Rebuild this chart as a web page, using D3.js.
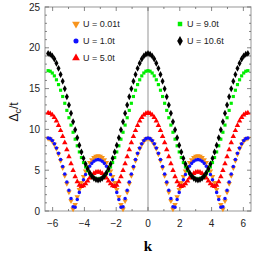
<!DOCTYPE html>
<html><head><meta charset="utf-8">
<script src="https://cdn.jsdelivr.net/npm/d3@7"></script>
<style>body{margin:0;background:#fff}</style>
</head><body><script>
const width = 256, height = 256;

// k runs from -2pi to 2pi in steps of pi/24 (97 points)
const kCount = 97;
const xTicks = [-6, -4, -2, 0, 2, 4, 6];
const yTicks = [0, 5, 10, 15, 20, 25];

const uLabels = ["U = 0.01t", "U = 1.0t", "U = 5.0t", "U = 9.0t", "U = 10.6t"];

const gapU001 = [8.9, 8.82, 8.58, 8.18, 7.64, 6.97, 6.18, 5.3, 4.35, 3.35, 2.31, 1.26, 0.23, 0.78, 1.74, 2.64, 3.48, 4.22, 4.88, 5.45, 5.92, 6.28, 6.54, 6.7, 6.75,
  6.7, 6.54, 6.28, 5.92, 5.45, 4.88, 4.22, 3.48, 2.64, 1.74, 0.78, 0.23, 1.26, 2.31, 3.35, 4.35, 5.3, 6.18, 6.97, 7.64, 8.18, 8.58, 8.82, 8.9,
  8.82, 8.58, 8.18, 7.64, 6.97, 6.18, 5.3, 4.35, 3.35, 2.31, 1.26, 0.23, 0.78, 1.74, 2.64, 3.48, 4.22, 4.88, 5.45, 5.92, 6.28, 6.54, 6.7, 6.75,
  6.7, 6.54, 6.28, 5.92, 5.45, 4.88, 4.22, 3.48, 2.64, 1.74, 0.78, 0.23, 1.26, 2.31, 3.35, 4.35, 5.3, 6.18, 6.97, 7.64, 8.18, 8.58, 8.82, 8.9];

const gapU1 = [8.95, 8.87, 8.64, 8.25, 7.73, 7.08, 6.32, 5.46, 4.54, 3.56, 2.55, 1.53, 0.53, 0.46, 1.4, 2.28, 3.09, 3.82, 4.47, 5.02, 5.48, 5.84, 6.09, 6.25, 6.3,
  6.25, 6.09, 5.84, 5.48, 5.02, 4.47, 3.82, 3.09, 2.28, 1.4, 0.46, 0.53, 1.53, 2.55, 3.56, 4.54, 5.46, 6.32, 7.08, 7.73, 8.25, 8.64, 8.87, 8.95,
  8.87, 8.64, 8.25, 7.73, 7.08, 6.32, 5.46, 4.54, 3.56, 2.55, 1.53, 0.53, 0.46, 1.4, 2.28, 3.09, 3.82, 4.47, 5.02, 5.48, 5.84, 6.09, 6.25, 6.3,
  6.25, 6.09, 5.84, 5.48, 5.02, 4.47, 3.82, 3.09, 2.28, 1.4, 0.46, 0.53, 1.53, 2.55, 3.56, 4.54, 5.46, 6.32, 7.08, 7.73, 8.25, 8.64, 8.87, 8.95];

const gapU5 = [12.03, 11.97, 11.78, 11.46, 11.03, 10.5, 9.86, 9.14, 8.36, 7.52, 6.66, 5.79, 4.96, 4.2, 3.58, 3.16, 3.0, 3.09, 3.35, 3.7, 4.05, 4.36, 4.6, 4.75, 4.8,
  4.75, 4.6, 4.36, 4.05, 3.7, 3.35, 3.09, 3.0, 3.16, 3.58, 4.2, 4.96, 5.79, 6.66, 7.52, 8.36, 9.14, 9.86, 10.5, 11.03, 11.46, 11.78, 11.97, 12.03,
  11.97, 11.78, 11.46, 11.03, 10.5, 9.86, 9.14, 8.36, 7.52, 6.66, 5.79, 4.96, 4.2, 3.58, 3.16, 3.0, 3.09, 3.35, 3.7, 4.05, 4.36, 4.6, 4.75, 4.8,
  4.75, 4.6, 4.36, 4.05, 3.7, 3.35, 3.09, 3.0, 3.16, 3.58, 4.2, 4.96, 5.79, 6.66, 7.52, 8.36, 9.14, 9.86, 10.5, 11.03, 11.46, 11.78, 11.97, 12.03];

const gapU9 = [17.2, 17.13, 16.91, 16.56, 16.08, 15.49, 14.8, 14.03, 13.2, 12.33, 11.43, 10.53, 9.65, 8.8, 7.99, 7.24, 6.55, 5.94, 5.4, 4.94, 4.57, 4.27, 4.07, 3.94, 3.9,
  3.94, 4.07, 4.27, 4.57, 4.94, 5.4, 5.94, 6.55, 7.24, 7.99, 8.8, 9.65, 10.53, 11.43, 12.33, 13.2, 14.03, 14.8, 15.49, 16.08, 16.56, 16.91, 17.13, 17.2,
  17.13, 16.91, 16.56, 16.08, 15.49, 14.8, 14.03, 13.2, 12.33, 11.43, 10.53, 9.65, 8.8, 7.99, 7.24, 6.55, 5.94, 5.4, 4.94, 4.57, 4.27, 4.07, 3.94, 3.9,
  3.94, 4.07, 4.27, 4.57, 4.94, 5.4, 5.94, 6.55, 7.24, 7.99, 8.8, 9.65, 10.53, 11.43, 12.33, 13.2, 14.03, 14.8, 15.49, 16.08, 16.56, 16.91, 17.13, 17.2];

const gapU106 = [19.3, 19.22, 19.0, 18.62, 18.11, 17.48, 16.73, 15.89, 14.98, 14.0, 13.0, 11.97, 10.95, 9.95, 8.98, 8.07, 7.23, 6.45, 5.77, 5.18, 4.69, 4.3, 4.02, 3.86, 3.8,
  3.86, 4.02, 4.3, 4.69, 5.18, 5.77, 6.45, 7.23, 8.07, 8.98, 9.95, 10.95, 11.97, 13.0, 14.0, 14.98, 15.89, 16.73, 17.48, 18.11, 18.62, 19.0, 19.22, 19.3,
  19.22, 19.0, 18.62, 18.11, 17.48, 16.73, 15.89, 14.98, 14.0, 13.0, 11.97, 10.95, 9.95, 8.98, 8.07, 7.23, 6.45, 5.77, 5.18, 4.69, 4.3, 4.02, 3.86, 3.8,
  3.86, 4.02, 4.3, 4.69, 5.18, 5.77, 6.45, 7.23, 8.07, 8.98, 9.95, 10.95, 11.97, 13.0, 14.0, 14.98, 15.89, 16.73, 17.48, 18.11, 18.62, 19.0, 19.22, 19.3];

const kValues = d3.range(kCount).map(i => -2 * Math.PI + i * Math.PI / 24);

const series = [
  {label: uLabels[0], values: gapU001, color: "#f7941d", shape: d3.symbolTriangle, size: 13, rot: 180},
  {label: uLabels[1], values: gapU1, color: "#1010ff", shape: d3.symbolCircle, size: 10, rot: 0},
  {label: uLabels[2], values: gapU5, color: "#ff0000", shape: d3.symbolTriangle, size: 13, rot: 0},
  {label: uLabels[3], values: gapU9, color: "#00ee00", shape: d3.symbolSquare, size: 10, rot: 0},
  {label: uLabels[4], values: gapU106, color: "#000000", shape: d3.symbolDiamond, size: 14, rot: 0}
];

const plotLeft = 45, plotRight = 251, plotTop = 7, plotBottom = 211;

const x = d3.scaleLinear().domain([-6.48, 6.48]).range([plotLeft, plotRight]);
const y = d3.scaleLinear().domain([0, 25]).range([plotBottom, plotTop]);

const svg = d3.select('body')
  .append('svg')
  .attr('width', width)
  .attr('height', height)
  .style('font-family', 'Liberation Sans, Arial, sans-serif');

// frame
svg.append('rect')
  .attr('x', plotLeft)
  .attr('y', plotTop)
  .attr('width', plotRight - plotLeft)
  .attr('height', plotBottom - plotTop)
  .attr('fill', 'none')
  .attr('stroke', '#a8a8a8')
  .attr('stroke-width', 1.2);

// k = 0 line
svg.append('line')
  .attr('x1', x(0)).attr('x2', x(0))
  .attr('y1', plotBottom).attr('y2', plotTop)
  .attr('stroke', '#b8b8b8')
  .attr('stroke-width', 1.5);

// ticks (inward, on all sides)
const tickColor = '#555';
const xMinor = d3.range(-6, 7, 1);
const yMinor = d3.range(0, 26, 1);
const tg = svg.append('g').attr('stroke', tickColor).attr('stroke-width', 0.7);
xMinor.forEach(v => {
  const len = xTicks.includes(v) ? 4 : 2;
  tg.append('line').attr('x1', x(v)).attr('x2', x(v)).attr('y1', plotBottom).attr('y2', plotBottom - len);
  tg.append('line').attr('x1', x(v)).attr('x2', x(v)).attr('y1', plotTop).attr('y2', plotTop + len);
});
yMinor.forEach(v => {
  const len = yTicks.includes(v) ? 4 : 2;
  tg.append('line').attr('x1', plotLeft).attr('x2', plotLeft + len).attr('y1', y(v)).attr('y2', y(v));
  tg.append('line').attr('x1', plotRight).attr('x2', plotRight - len).attr('y1', y(v)).attr('y2', y(v));
});

// tick labels
const fmt = d3.format('d');
svg.append('g').selectAll('text')
  .data(xTicks)
  .enter()
  .append('text')
  .attr('x', d => x(d))
  .attr('y', 227)
  .attr('text-anchor', 'middle')
  .attr('font-size', 10)
  .attr('fill', '#222')
  .text(d => fmt(d));

svg.append('g').selectAll('text')
  .data(yTicks)
  .enter()
  .append('text')
  .attr('x', plotLeft - 5)
  .attr('y', d => y(d) + 3.5)
  .attr('text-anchor', 'end')
  .attr('font-size', 10)
  .attr('fill', '#222')
  .text(d => d);

// axis titles
const ylab = svg.append('text')
  .attr('transform', 'translate(18,112) rotate(-90)')
  .attr('text-anchor', 'middle')
  .attr('font-size', 12)
  .attr('fill', '#111');
ylab.append('tspan').text('Δ');
ylab.append('tspan').attr('font-size', 9).attr('dy', 3).text('c');
ylab.append('tspan').attr('dy', -3).text('/t');

svg.append('text')
  .attr('x', x(0))
  .attr('y', 251)
  .attr('text-anchor', 'middle')
  .attr('font-family', 'Liberation Serif, Times New Roman, serif')
  .attr('font-weight', 'bold')
  .attr('font-size', 15)
  .text('k');

// data points
series.forEach(s => {
  const sym = d3.symbol().type(s.shape).size(s.size);
  svg.append('g').selectAll('path')
    .data(s.values.map((v, i) => [kValues[i], v]))
    .enter()
    .append('path')
    .attr('d', sym())
    .attr('transform', d => `translate(${x(d[0])},${y(d[1])}) rotate(${s.rot})`)
    .attr('fill', s.color);
});

// legend
const legendPos = [[76, 24], [76, 41], [76, 58], [180, 24], [180, 41]];
series.forEach((s, i) => {
  const [lx, ly] = legendPos[i];
  const sym = d3.symbol().type(s.shape).size(s.size * 2);
  svg.append('path')
    .attr('d', sym())
    .attr('transform', `translate(${lx},${ly}) rotate(${s.rot})`)
    .attr('fill', s.color);
  svg.append('text')
    .attr('x', lx + 7)
    .attr('y', ly + 3.2)
    .attr('font-size', 9)
    .attr('fill', '#222')
    .text(s.label);
});
</script></body></html>
